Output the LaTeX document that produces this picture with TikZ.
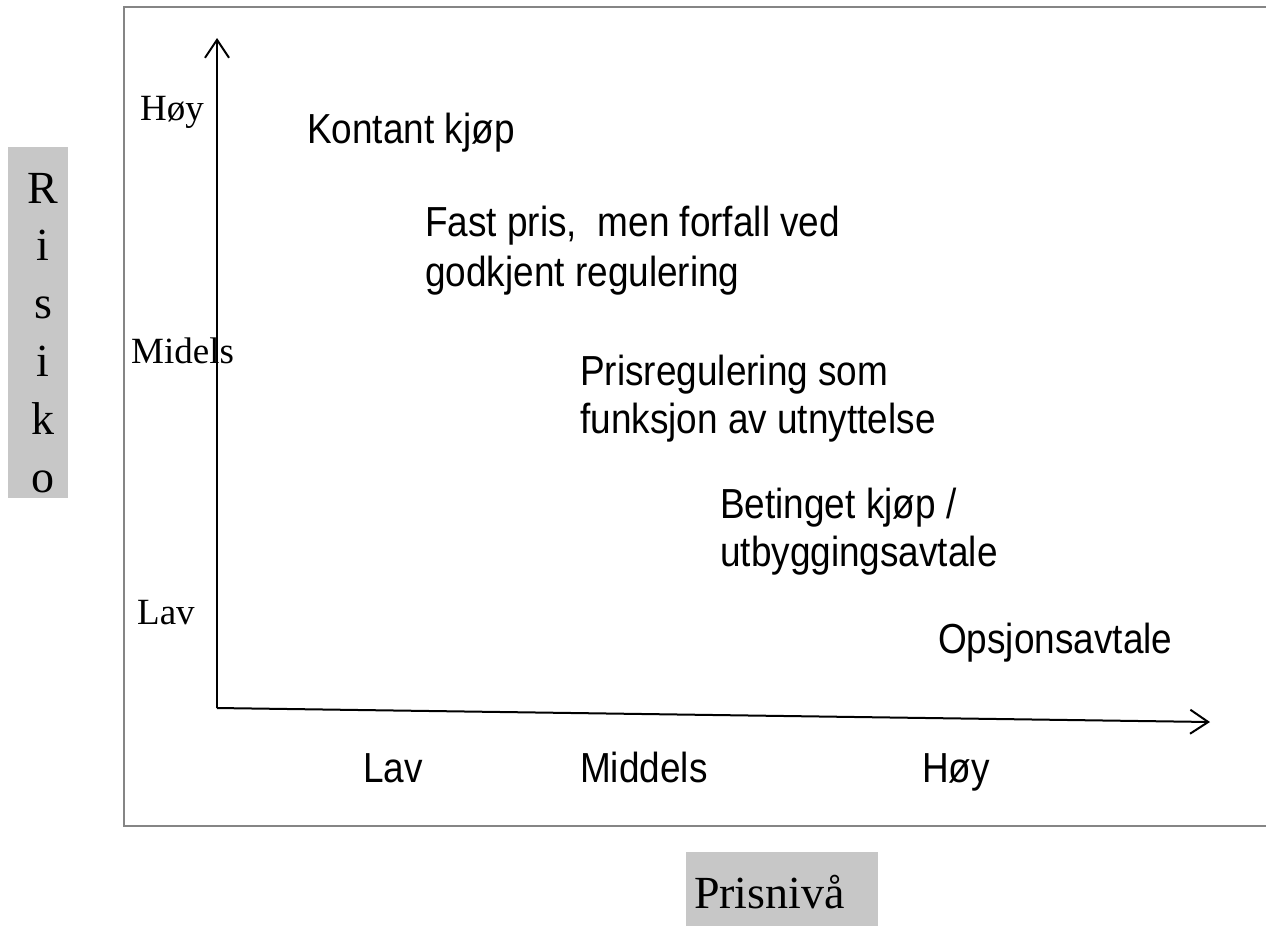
\documentclass[tikz,border=0pt]{standalone}
\usepackage{fontspec}
\setmainfont{Liberation Serif}
\newfontfamily\chartsans[FakeStretch=0.88]{Liberation Sans}
\usetikzlibrary{arrows.meta}
\begin{document}
\begin{tikzpicture}[x=1pt,y=-1pt,
  frame/.style={draw=black!48,line width=2.8pt},
  axis/.style={draw=black,line width=2pt,-{Straight Barb[length=18pt,width=24pt,line width=2pt]}},
  level/.style={font=\fontsize{37}{40}\selectfont,inner sep=0pt,anchor=base west},
  method/.style={font=\chartsans\fontsize{42}{50}\selectfont,inner sep=0pt,anchor=base west},
  tick/.style={font=\chartsans\fontsize{42}{50}\selectfont,inner sep=0pt,anchor=base west},
  titlebox/.style={fill=black!22,inner sep=0pt},
  titletext/.style={inner sep=0pt,align=center,font=\fontsize{46}{57.8}\selectfont}]
\useasboundingbox (0,0) rectangle (1266,927);
\begin{scope}
  \clip (0,0) rectangle (1266,927);
  \draw[frame] (124,7) rectangle (1290,826);
\end{scope}
% axes
\coordinate (origin) at (217,708);
\coordinate (ytop) at (217,38);
\coordinate (xend) at (1210,722);
\draw[axis] (origin) -- (ytop);
\draw[axis] (origin) -- (xend);
% risk levels
\node[level] (rh) at (140,120) {Høy};
\node[level] (rm) at (131,363) {Midels};
\node[level] (rl) at (137,624) {Lav};
% contract forms
\node[method] (m1) at (307,143) {Kontant kjøp};
\node[method] (m2) at (425,236) {Fast pris,\ \ men forfall ved};
\node[method] (m2b) at (425,286) {godkjent regulering};
\node[method] (m3) at (580,385) {Prisregulering som};
\node[method] (m3b) at (580,433) {funksjon av utnyttelse};
\node[method] (m4) at (720,518) {Betinget kjøp /};
\node[method] (m4b) at (720,566) {utbyggingsavtale};
\node[method] (m5) at (938,653) {Opsjonsavtale};
% price levels
\node[tick] (pl) at (363,782) {Lav};
\node[tick] (pm) at (580,782) {Middels};
\node[tick] (ph) at (922,782) {Høy};
% axis titles
\node[titlebox,minimum width=60pt,minimum height=351pt] (risk) at (38,322.5) {};
\node[titletext,anchor=base] (risktext) at (43,492) {R\\i\\s\\i\\k\\o};
\node[titlebox,minimum width=192pt,minimum height=74pt] (price) at (782,889) {};
\node[titletext,font=\fontsize{46}{50}\selectfont,anchor=base east] (pricetext) at (845,908) {Prisnivå};
\end{tikzpicture}
\end{document}
